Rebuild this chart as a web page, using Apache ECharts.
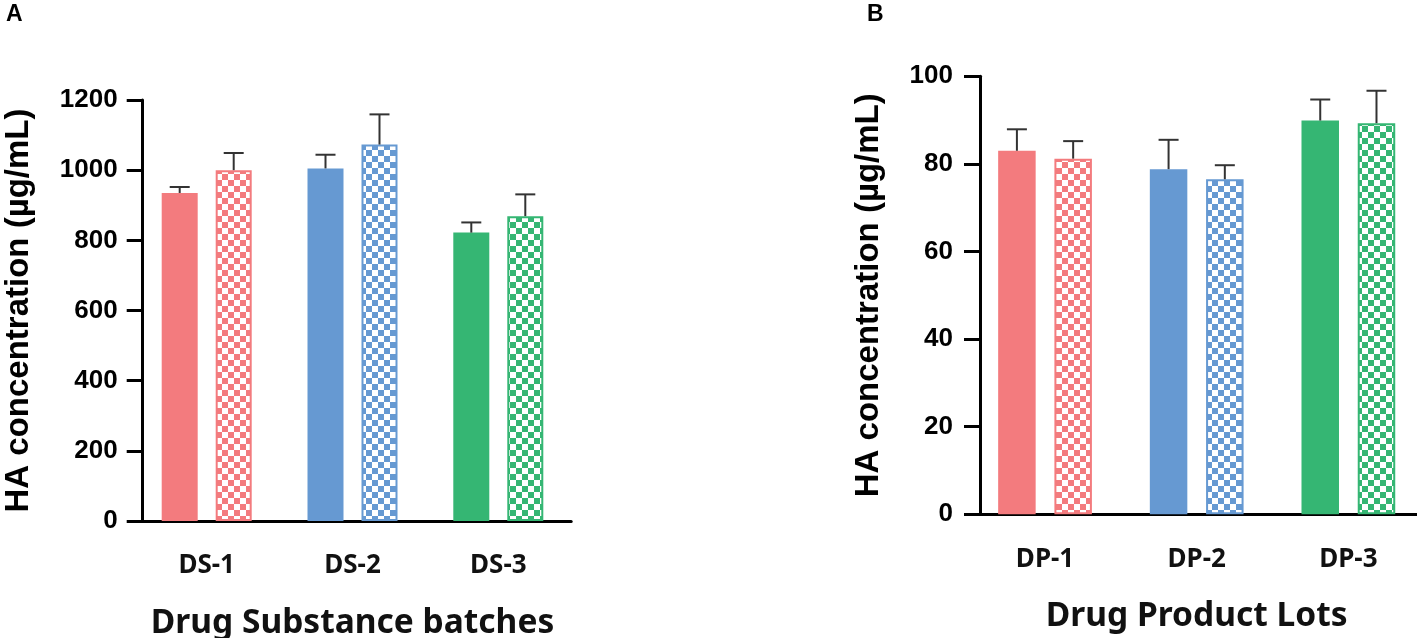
<!DOCTYPE html>
<html>
<head>
<meta charset="utf-8">
<script src="https://cdn.jsdelivr.net/npm/echarts@6/dist/echarts.min.js"></script>
<style>
html,body{margin:0;padding:0;background:#fff;}
#chart{width:1417px;height:638px;}
</style>
</head>
<body>
<div id="chart"></div>
<script>
// ---- data ----
const categoriesA = ['DS-1', 'DS-2', 'DS-3'];
const solidA = [935, 1005, 822];
const solidErrA = [17, 39, 29];
const checkA = [1000, 1073, 869];
const checkErrA = [49, 86, 62];

const categoriesB = ['DP-1', 'DP-2', 'DP-3'];
const solidB = [83.0, 78.8, 89.9];
const solidErrB = [4.9, 6.7, 4.8];
const checkB = [81.2, 76.5, 89.3];
const checkErrB = [4.0, 3.2, 7.4];

const yTicksA = [0, 1200, 200];   // min, max, interval
const yTicksB = [0, 100, 20];

const groupColors = ['#F37B7E', '#6699D2', '#35B673'];

// ---- helpers ----
function checker(color) {
  const c = document.createElement('canvas');
  c.width = 12; c.height = 12;
  const g = c.getContext('2d');
  g.fillStyle = '#ffffff'; g.fillRect(0, 0, 12, 12);
  g.fillStyle = color;
  g.fillRect(0, 0, 6, 6);
  g.fillRect(6, 6, 6, 6);
  return { image: c, repeat: 'repeat' };
}

function solidData(vals) {
  return vals.map((v, i) => ({ value: v, itemStyle: { color: groupColors[i] } }));
}
function checkData(vals) {
  return vals.map((v, i) => ({
    value: v,
    itemStyle: { color: checker(groupColors[i]), borderColor: groupColors[i], borderWidth: 2 }
  }));
}

function errSeries(means, errs, axisIdx, offset) {
  return {
    type: 'custom',
    xAxisIndex: axisIdx, yAxisIndex: axisIdx,
    z: 5,
    encode: { x: 0, y: 1 },
    data: means.map((m, i) => [i, m, errs[i]]),
    renderItem: function (params, api) {
      const x = api.value(0), m = api.value(1), s = api.value(2);
      const p0 = api.coord([x, m]);
      const p1 = api.coord([x, m + s]);
      const cx = p0[0] + offset;
      const st = { stroke: '#333333', lineWidth: 2 };
      return {
        type: 'group',
        children: [
          { type: 'line', shape: { x1: cx, y1: p0[1], x2: cx, y2: p1[1] }, style: st },
          { type: 'line', shape: { x1: cx - 10, y1: p1[1], x2: cx + 10, y2: p1[1] }, style: st }
        ]
      };
    }
  };
}

const bwA = 36, bwB = 37.5;
const offA = bwA * 1.5 / 2, offB = bwB * 1.5 / 2;

const tickFont = { fontFamily: 'Liberation Sans, Arial', fontWeight: 'bold', fontSize: 26, color: '#000' };
const catFont = { fontFamily: 'Noto Sans', fontWeight: 'bold', fontSize: 26, color: '#111' };
const xNameFont = { fontFamily: 'Noto Sans', fontWeight: 'bold', fontSize: 33.5, color: '#111' };
const yNameFont = { fontFamily: 'Liberation Sans, Arial', fontWeight: 'bold', fontSize: 33, color: '#000' };
const axisLineStyle = { color: '#000', width: 3 };

function xAxis(cats, gridIdx, name) {
  return {
    type: 'category', gridIndex: gridIdx, data: cats,
    axisLine: { lineStyle: axisLineStyle },
    axisTick: { alignWithLabel: true, length: 16, lineStyle: { color: '#000', width: 3 } },
    axisLabel: Object.assign({ margin: 32 }, catFont),
    name: name, nameLocation: 'middle', nameGap: 85,
    nameTextStyle: xNameFont
  };
}
function yAxis(t, gridIdx, offset, margin, nameGap) {
  return {
    type: 'value', gridIndex: gridIdx, min: t[0], max: t[1], interval: t[2],
    offset: offset,
    splitLine: { show: false },
    axisLine: { show: true, lineStyle: axisLineStyle },
    axisTick: { show: true, length: 16, lineStyle: { color: '#000', width: 3 } },
    axisLabel: Object.assign({ margin: margin, formatter: v => String(v) }, tickFont),
    name: 'HA concentration (µg/mL)', nameLocation: 'middle', nameRotate: 90, nameGap: nameGap,
    nameTextStyle: yNameFont
  };
}

const chart = echarts.init(document.getElementById('chart'), null, { renderer: 'canvas' });
chart.setOption({
  animation: false,
  backgroundColor: '#ffffff',
  title: [
    { text: 'A', left: 6, top: 3, padding: 0, textStyle: { fontSize: 23, fontWeight: 'bold', fontFamily: 'Liberation Sans', color: '#000' } },
    { text: 'B', left: 867, top: 3, padding: 0, textStyle: { fontSize: 23, fontWeight: 'bold', fontFamily: 'Liberation Sans', color: '#000' } }
  ],
  grid: [
    { left: 133.8, top: 100, width: 437.4, height: 421, outerBoundsMode: 'none', containLabel: false },
    { left: 969.2, top: 76.3, width: 455, height: 438, outerBoundsMode: 'none', containLabel: false }
  ],
  xAxis: [
    xAxis(categoriesA, 0, 'Drug Substance batches'),
    xAxis(categoriesB, 1, 'Drug Product Lots')
  ],
  yAxis: [
    yAxis(yTicksA, 0, -8.9, 25, 107),
    yAxis(yTicksB, 1, -10.8, 27, 95)
  ],
  series: [
    { type: 'bar', xAxisIndex: 0, yAxisIndex: 0, barWidth: bwA, barGap: '50%', data: solidData(solidA) },
    { type: 'bar', xAxisIndex: 0, yAxisIndex: 0, barWidth: bwA, barGap: '50%', data: checkData(checkA) },
    { type: 'bar', xAxisIndex: 1, yAxisIndex: 1, barWidth: bwB, barGap: '50%', data: solidData(solidB) },
    { type: 'bar', xAxisIndex: 1, yAxisIndex: 1, barWidth: bwB, barGap: '50%', data: checkData(checkB) },
    errSeries(solidA, solidErrA, 0, -offA),
    errSeries(checkA, checkErrA, 0, offA),
    errSeries(solidB, solidErrB, 1, -offB),
    errSeries(checkB, checkErrB, 1, offB)
  ]
});
</script>
</body>
</html>
